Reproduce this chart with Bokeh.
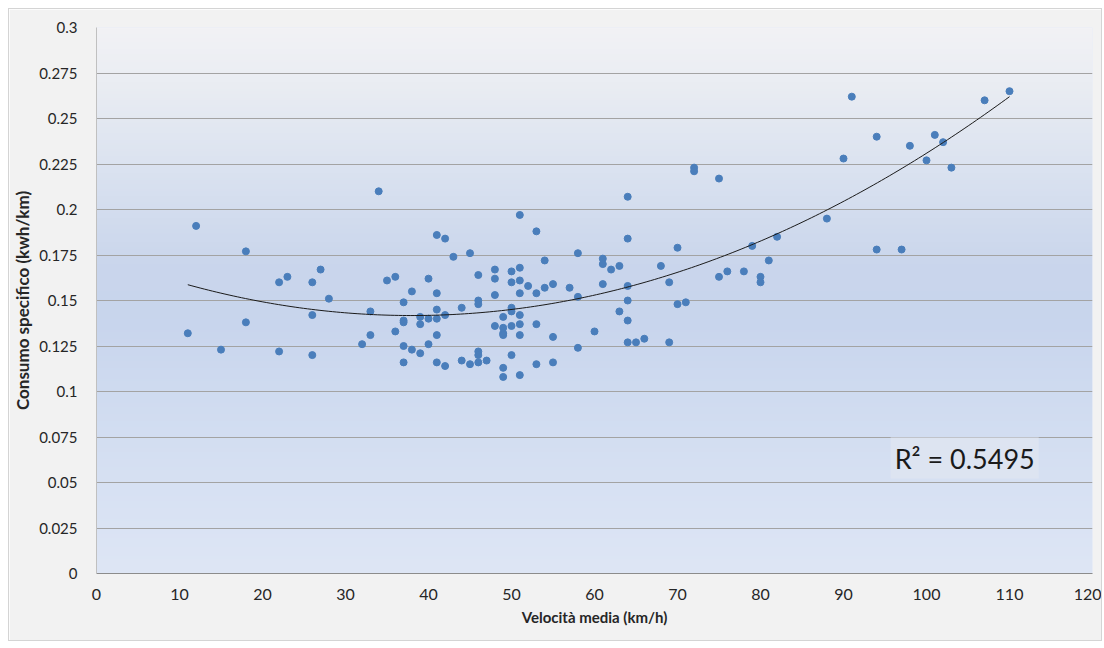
import numpy as np
from bokeh.plotting import figure
from bokeh.models import Range1d, FixedTicker, CustomJSTickFormatter, Label, ColumnDataSource
from bokeh.embed import file_html
from bokeh.resources import INLINE

# ---- data ----
velocita = [11, 12, 15, 18, 18, 22, 22, 23, 26, 26, 26, 27, 28, 32,
            33, 33, 34, 35, 36, 36, 37, 37, 37, 37, 37, 38, 38, 39, 39, 39,
            40, 40, 40, 41, 41, 41, 41, 41, 41, 42, 42, 42, 43, 44, 44, 45, 45,
            46, 46, 46, 46, 46, 46, 47, 48, 48, 48, 48, 49, 49, 49, 49, 49, 49,
            50, 50, 50, 50, 50, 50, 51, 51, 51, 51, 51, 51, 51, 51, 52, 53, 53, 53, 53,
            54, 54, 55, 55, 55, 57, 58, 58, 58, 60, 61, 61, 61, 62, 63, 63,
            64, 64, 64, 64, 64, 64, 65, 66, 68, 69, 69, 70, 70, 71, 72, 72, 75, 75,
            76, 78, 79, 80, 80, 81, 82, 88, 90, 91, 94, 94, 97, 98, 100, 101, 102, 103, 107, 110]
consumo = [0.132, 0.191, 0.123, 0.177, 0.138, 0.160, 0.122, 0.163, 0.160, 0.142, 0.120, 0.167, 0.151, 0.126,
           0.144, 0.131, 0.210, 0.161, 0.163, 0.133, 0.149, 0.139, 0.138, 0.125, 0.116, 0.155, 0.123, 0.141, 0.137, 0.121,
           0.162, 0.140, 0.126, 0.186, 0.154, 0.145, 0.140, 0.131, 0.116, 0.184, 0.142, 0.114, 0.174, 0.146, 0.117, 0.176, 0.115,
           0.164, 0.150, 0.148, 0.122, 0.120, 0.116, 0.117, 0.167, 0.162, 0.153, 0.136, 0.141, 0.135, 0.132, 0.131, 0.113, 0.108,
           0.166, 0.160, 0.146, 0.144, 0.136, 0.120, 0.197, 0.168, 0.161, 0.154, 0.142, 0.137, 0.131, 0.109, 0.158, 0.188, 0.154, 0.137, 0.115,
           0.172, 0.157, 0.159, 0.130, 0.116, 0.157, 0.176, 0.152, 0.124, 0.133, 0.173, 0.170, 0.159, 0.167, 0.169, 0.144,
           0.207, 0.184, 0.158, 0.150, 0.139, 0.127, 0.127, 0.129, 0.169, 0.160, 0.127, 0.179, 0.148, 0.149, 0.223, 0.221, 0.217, 0.163,
           0.166, 0.166, 0.180, 0.163, 0.160, 0.172, 0.185, 0.195, 0.228, 0.262, 0.240, 0.178, 0.178, 0.235, 0.227, 0.241, 0.237, 0.223, 0.260, 0.265]
x_ticks = [0, 10, 20, 30, 40, 50, 60, 70, 80, 90, 100, 110, 120]
y_ticks = [0, 0.025, 0.05, 0.075, 0.1, 0.125, 0.15, 0.175, 0.2, 0.225, 0.25, 0.275, 0.3]
r2_text = "R\u00b2 = 0.5495"

FONT = "Lato"

p = figure(width=1092, height=631, x_range=Range1d(0, 120), y_range=Range1d(0, 0.3),
           output_backend="svg", toolbar_location=None,
           min_border_left=86, min_border_right=9, min_border_top=18, min_border_bottom=67,
           background_fill_color="#dfe6f4", border_fill_color="#f2f2f2",
           outline_line_color=None)
p.margin = (9, 3, 8, 9)
p.styles = {"outline": "1px solid #d4d4d4"}

# background gradient of the plot area
stops_v = [0.0, 0.05, 0.10, 0.14, 0.17, 0.22, 0.27, 0.30]
stops_c = [(222, 230, 245), (215, 225, 243), (207, 219, 240), (200, 213, 237),
           (202, 214, 236), (218, 226, 240), (234, 237, 243), (242, 242, 245)]
N = 300
yy = np.linspace(0, 0.3, N)
img = np.zeros((N, 1), dtype=np.uint32)
view = img.view(dtype=np.uint8).reshape((N, 1, 4))
for k in range(3):
    view[:, 0, k] = np.interp(yy, stops_v, [c[k] for c in stops_c]).astype(np.uint8)
view[:, 0, 3] = 255
bg = p.image_rgba(image=[img], x=0, y=0, dw=120, dh=0.3)
bg.level = "image"

# grid
p.xgrid.grid_line_color = None
p.ygrid.grid_line_color = "#a3a3a3"
p.ygrid.grid_line_width = 1
p.ygrid.ticker = FixedTicker(ticks=y_ticks)

# axes
p.xaxis.ticker = FixedTicker(ticks=x_ticks)
p.yaxis.ticker = FixedTicker(ticks=y_ticks)
p.yaxis.formatter = CustomJSTickFormatter(code="return String(Number(tick.toFixed(3)));")
for ax in (p.xaxis[0], p.yaxis[0]):
    ax.major_tick_line_color = None
    ax.minor_tick_line_color = None
    ax.major_label_text_font = FONT
    ax.major_label_text_color = "#262626"
    ax.axis_label_text_font = FONT
    ax.axis_label_text_font_style = "bold"
    ax.axis_label_text_color = "#262626"
p.xaxis.axis_line_color = "#8c8c8c"
p.yaxis.axis_line_color = "#c0c0c0"
p.xaxis.major_label_text_font_size = "16px"
p.yaxis.major_label_text_font_size = "15px"
p.xaxis.major_label_standoff = 9
p.yaxis.major_label_standoff = 13
p.xaxis.axis_label = "Velocità media (km/h)"
p.yaxis.axis_label = "Consumo specifico (kwh/km)"
p.xaxis.axis_label_text_font_size = "15px"
p.yaxis.axis_label_text_font_size = "17px"
p.xaxis.axis_label_standoff = 5
p.yaxis.axis_label_standoff = 3

# scatter points
src = ColumnDataSource(dict(x=velocita, y=consumo))
p.scatter("x", "y", source=src, size=7, fill_color="#4a7ebb", line_color="#4a7ebb")

# polynomial (order 2) trend line fitted to the data
coef = np.polyfit(velocita, consumo, 2)
xs = np.linspace(min(velocita), max(velocita), 200)
p.line(xs, np.polyval(coef, xs), line_color="#1a1a1a", line_width=1)

# R^2 label
lab = Label(x=104.6, y=0.0634, text=r2_text, text_align="center", text_baseline="middle",
            text_font=FONT, text_font_size="27px", text_color="#1a1a1a",
            background_fill_color="#dde4f1", padding=4)
p.add_layout(lab)

open("out.html", "w").write(file_html(p, INLINE))
